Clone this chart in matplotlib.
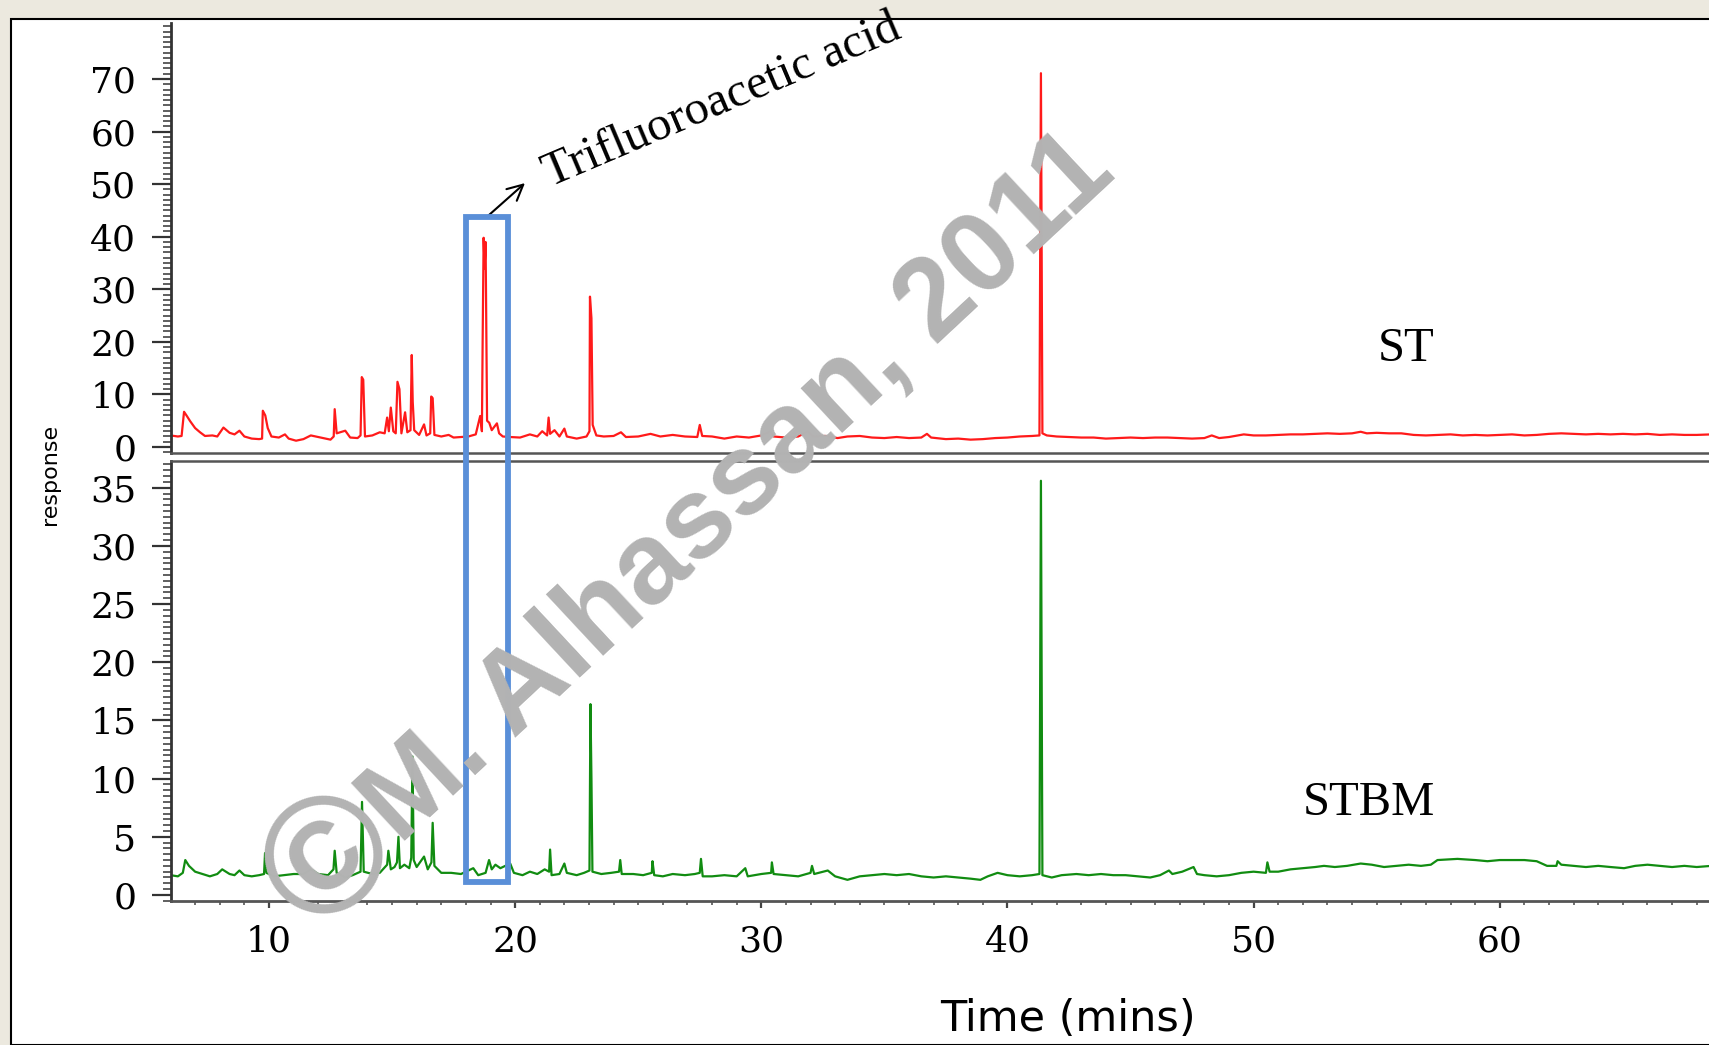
## GC chromatograms ST / STBM
import numpy as np
import matplotlib.pyplot as plt
from matplotlib.patches import Rectangle
from matplotlib.ticker import MultipleLocator

# ST trace (red, top panel) - time (mins), response
st_time = [6.0, 6.3, 6.45, 6.55, 6.65, 6.8, 7.0, 7.2, 7.4, 7.7, 7.9, 8.15, 8.4, 8.6, 8.8, 9.0, 9.3, 9.6,
           9.72, 9.75, 9.85, 9.95, 10.1, 10.4, 10.65, 10.8, 11.1, 11.4, 11.7, 12.0, 12.3, 12.5, 12.63, 12.67,
           12.75, 13.1, 13.3, 13.6, 13.72, 13.77, 13.83, 13.9, 14.2, 14.5, 14.7, 14.8, 14.87, 14.95, 15.05,
           15.15, 15.22, 15.3, 15.38, 15.53, 15.62, 15.75, 15.8, 15.84, 15.9, 16.1, 16.3, 16.4, 16.55, 16.59,
           16.65, 16.72, 17.0, 17.3, 17.5, 17.8, 18.1, 18.4, 18.58, 18.65, 18.68, 18.72, 18.76, 18.8, 18.86,
           18.95, 19.05, 19.26, 19.35, 19.5, 19.8, 20.2, 20.6, 20.9, 21.1, 21.3, 21.36, 21.42, 21.6, 21.8,
           22.0, 22.1, 22.5, 22.9, 23.02, 23.04, 23.1, 23.15, 23.3, 23.6, 24.0, 24.3, 24.5, 25.0, 25.5, 25.9,
           26.4, 26.9, 27.4, 27.5, 27.6, 28.0, 28.5, 29.0, 29.5, 30.0, 30.37, 30.5, 31.0, 31.5, 31.9, 32.1,
           32.6, 33.1, 33.5, 34.0, 34.5, 35.0, 35.5, 36.0, 36.5, 36.73, 36.9, 37.5, 38.0, 38.5, 39.0, 39.5,
           40.0, 40.5, 41.0, 41.3, 41.36, 41.42, 41.6, 42.0, 42.5, 43.0, 43.5, 44.0, 44.5, 45.0, 45.5, 46.0,
           46.5, 47.0, 47.5, 48.0, 48.3, 48.6, 49.0, 49.6, 50.0, 50.5, 51.0, 51.5, 52.0, 52.5, 53.0, 53.5,
           54.0, 54.35, 54.6, 55.0, 55.5, 56.0, 56.5, 57.0, 57.5, 58.0, 58.5, 59.0, 59.5, 60.0, 60.5, 61.0,
           61.5, 62.0, 62.5, 63.0, 63.5, 64.0, 64.5, 65.0, 65.5, 66.0, 66.5, 67.0, 67.5, 68.0, 68.6]
st_resp = [2.2, 2.0, 2.1, 6.7, 6.0, 4.9, 3.6, 2.8, 2.1, 2.2, 2.0, 3.7, 2.7, 2.4, 3.1, 2.0, 1.6, 1.5,
           1.6, 6.9, 6.0, 3.6, 2.0, 1.8, 2.4, 1.6, 1.2, 1.5, 2.2, 1.9, 1.6, 1.4, 2.0, 7.2,
           2.6, 3.1, 1.8, 1.7, 2.2, 13.3, 12.8, 2.0, 2.2, 2.8, 2.6, 5.6, 3.0, 7.5, 3.0,
           2.6, 12.4, 11.0, 2.6, 6.6, 2.8, 3.2, 17.5, 8.6, 3.2, 2.3, 4.3, 2.2, 2.6, 9.6,
           9.3, 2.3, 2.0, 2.3, 1.8, 1.9, 2.0, 2.4, 5.9, 3.0, 20.0, 39.8, 34.0, 39.0, 5.0,
           4.6, 3.2, 4.5, 2.6, 2.0, 1.9, 1.8, 2.4, 2.0, 3.0, 2.2, 5.6, 2.5, 3.2, 2.0,
           3.5, 2.0, 1.6, 2.0, 3.0, 28.6, 24.5, 4.2, 2.2, 2.0, 2.1, 2.8, 1.9, 2.0, 2.5, 2.0,
           2.3, 2.0, 1.9, 4.2, 2.1, 2.0, 1.6, 2.0, 1.8, 2.2, 3.0, 2.0, 1.8, 2.0, 3.0, 2.0,
           2.1, 1.7, 2.0, 2.1, 1.8, 1.7, 1.9, 1.7, 1.8, 2.5, 1.8, 1.5, 1.6, 1.4, 1.5, 1.7,
           1.8, 2.0, 2.1, 2.2, 71.1, 2.6, 2.2, 2.0, 1.9, 1.8, 1.8, 1.6, 1.7, 1.8, 1.7, 1.8,
           1.8, 1.7, 1.6, 1.7, 2.2, 1.7, 1.9, 2.4, 2.2, 2.2, 2.3, 2.4, 2.4, 2.5, 2.6, 2.5,
           2.6, 2.9, 2.6, 2.7, 2.6, 2.6, 2.3, 2.2, 2.3, 2.4, 2.2, 2.3, 2.2, 2.3, 2.4, 2.2,
           2.3, 2.5, 2.6, 2.5, 2.4, 2.5, 2.4, 2.5, 2.4, 2.5, 2.3, 2.4, 2.3, 2.3, 2.4]

# STBM trace (green, bottom panel)
stbm_time = [6.0, 6.3, 6.5, 6.6, 6.75, 7.0, 7.3, 7.6, 7.9, 8.1, 8.4, 8.6, 8.8, 9.0, 9.3, 9.6, 9.8, 9.84,
             9.9, 10.2, 10.6, 11.0, 11.4, 11.7, 12.0, 12.4, 12.62, 12.67, 12.75, 13.1, 13.4, 13.72, 13.78,
             13.85, 14.2, 14.5, 14.8, 14.85, 14.95, 15.1, 15.2, 15.26, 15.32, 15.5, 15.7, 15.78, 15.83,
             15.88, 16.0, 16.3, 16.45, 16.6, 16.65, 16.72, 17.0, 17.4, 17.8, 18.1, 18.3, 18.5, 18.8, 18.94,
             19.05, 19.2, 19.4, 19.6, 19.8, 19.95, 20.3, 20.6, 20.9, 21.2, 21.38, 21.42, 21.48, 21.8, 22.0,
             22.1, 22.5, 22.8, 23.02, 23.06, 23.1, 23.14, 23.5, 23.9, 24.22, 24.27, 24.33, 24.8, 25.2, 25.55,
             25.58, 25.65, 26.0, 26.4, 26.9, 27.3, 27.5, 27.55, 27.62, 28.0, 28.5, 29.0, 29.35, 29.45, 30.0,
             30.4, 30.43, 30.5, 31.0, 31.5, 32.0, 32.06, 32.15, 32.7, 33.0, 33.5, 34.0, 34.5, 35.0, 35.5,
             36.0, 36.5, 37.0, 37.5, 38.0, 38.5, 38.9, 39.2, 39.6, 40.0, 40.5, 41.0, 41.3, 41.36, 41.42,
             41.8, 42.2, 42.8, 43.3, 43.8, 44.3, 44.8, 45.3, 45.8, 46.2, 46.56, 46.7, 47.1, 47.56, 47.7, 48.0,
             48.5, 49.0, 49.5, 50.0, 50.5, 50.56, 50.65, 51.0, 51.5, 52.0, 52.5, 52.86, 53.3, 53.8, 54.35,
             54.8, 55.3, 55.8, 56.3, 56.8, 57.2, 57.47, 58.28, 59.0, 59.5, 60.0, 60.44, 61.0, 61.5, 61.92,
             62.3, 62.35, 62.5, 63.0, 63.5, 64.0, 64.5, 65.05, 65.5, 66.0, 66.5, 67.0, 67.5, 68.0, 68.6]
stbm_resp = [1.7, 1.6, 1.9, 3.0, 2.5, 2.0, 1.8, 1.6, 1.8, 2.2, 1.8, 1.7, 2.1, 1.7, 1.6, 1.7, 1.8, 3.6,
             1.9, 1.6, 1.7, 1.8, 1.8, 2.2, 1.8, 1.7, 2.2, 3.8, 1.9, 1.5, 1.7, 2.0, 8.0,
             2.0, 1.8, 1.9, 2.6, 3.8, 2.2, 2.4, 2.8, 5.0, 2.3, 2.6, 2.3, 3.2, 11.9,
             3.0, 2.4, 3.3, 2.2, 2.8, 6.2, 2.5, 1.9, 1.9, 1.8, 2.1, 2.3, 1.7, 1.9, 3.0,
             2.2, 2.6, 2.3, 2.5, 2.7, 1.9, 1.7, 2.0, 1.8, 2.2, 2.0, 3.9, 1.7, 1.8, 2.7,
             1.9, 1.7, 1.9, 2.1, 16.4, 10.0, 2.0, 1.8, 1.9, 2.0, 3.0, 1.8, 1.8, 1.7, 1.9,
             2.9, 1.7, 1.6, 1.8, 1.7, 1.8, 1.9, 3.1, 1.6, 1.6, 1.7, 1.6, 2.3, 1.6, 1.8,
             1.9, 2.8, 1.8, 1.7, 1.6, 1.9, 2.5, 1.8, 2.1, 1.6, 1.3, 1.6, 1.7, 1.8, 1.7,
             1.8, 1.6, 1.5, 1.6, 1.5, 1.4, 1.3, 1.6, 1.9, 1.7, 1.6, 1.7, 1.8, 35.6, 1.7,
             1.5, 1.7, 1.8, 1.7, 1.8, 1.7, 1.7, 1.6, 1.5, 1.7, 2.1, 1.8, 2.0, 2.4, 1.8, 1.7,
             1.6, 1.7, 1.9, 2.0, 1.9, 2.8, 2.0, 2.0, 2.2, 2.3, 2.4, 2.5, 2.4, 2.5, 2.7,
             2.6, 2.4, 2.5, 2.6, 2.5, 2.6, 3.0, 3.1, 3.0, 2.9, 3.0, 3.0, 3.0, 2.9, 2.5,
             2.5, 2.9, 2.6, 2.5, 2.4, 2.5, 2.4, 2.3, 2.5, 2.6, 2.5, 2.4, 2.5, 2.4, 2.5]

st_ticks = [0, 10, 20, 30, 40, 50, 60, 70]
stbm_ticks = [0, 5, 10, 15, 20, 25, 30, 35]
time_ticks = [10, 20, 30, 40, 50, 60]

# highlighted TFA window (time range, top in ST units, bottom in STBM units)
box_t0, box_t1 = 18.0, 19.7
box_top, box_bot = 43.8, 1.1

W, H = 1709, 1045
fig = plt.figure(figsize=(W / 100, H / 100), dpi=100, facecolor='#ECE9DF')

# white panel with black frame, kept behind the axes
fig.patches.append(Rectangle((11 / W, 0), 1.0, 1 - 19 / H, transform=fig.transFigure,
                             facecolor='white', edgecolor='black', lw=1.5, zorder=-5))

ax1 = fig.add_axes([171 / W, 1 - 453 / H, 1 - 171 / W, (453 - 23) / H])
ax2 = fig.add_axes([171 / W, 1 - 901 / H, 1 - 171 / W, (901 - 461) / H])
ax1.set_zorder(1)
ax2.set_zorder(1)

ax1.plot(st_time, st_resp, color='#FF1A1A', lw=1.6)
ax2.plot(stbm_time, stbm_resp, color='#118C11', lw=1.6)

for ax in (ax1, ax2):
    ax.set_facecolor('none')
    ax.set_xlim(6.02, 68.5)
    ax.spines['right'].set_visible(False)
    ax.spines['left'].set_color('#333333')
    ax.spines['left'].set_linewidth(2)
    ax.tick_params(axis='y', which='major', direction='out', length=14, width=1.6,
                   color='#333333', pad=11, labelsize=26)
    ax.tick_params(axis='y', which='minor', direction='out', length=5.5, width=1.2, color='#444444')

ax1.set_ylim(-1.14, 80.65)
ax1.set_yticks(st_ticks)
ax1.yaxis.set_minor_locator(MultipleLocator(1))
ax1.spines['top'].set_visible(False)
ax1.spines['bottom'].set_color('#555555')
ax1.spines['bottom'].set_linewidth(1.8)
ax1.set_xticks([])

ax2.set_ylim(-0.52, 37.3)
ax2.set_yticks(stbm_ticks)
ax2.yaxis.set_minor_locator(MultipleLocator(0.5))
ax2.spines['top'].set_color('#555555')
ax2.spines['top'].set_linewidth(1.8)
ax2.spines['bottom'].set_color('#555555')
ax2.spines['bottom'].set_linewidth(2)
ax2.set_xticks(time_ticks)
ax2.xaxis.set_minor_locator(MultipleLocator(1))
ax2.tick_params(axis='x', which='major', direction='out', length=5, width=1.6,
                color='#444444', pad=12, labelsize=26)
ax2.tick_params(axis='x', which='minor', direction='out', length=3, width=1.2, color='#555555')
for ax in (ax1, ax2):
    for lbl in ax.get_yticklabels() + ax.get_xticklabels():
        lbl.set_family('DejaVu Serif')

# labels
fig.text(1068 / W, 1 - 1019 / H, 'Time (mins)', fontsize=31, family='DejaVu Sans',
         ha='center', va='center')
fig.text(50 / W, 1 - 474 / H, 'response', fontsize=16, family='DejaVu Sans',
         rotation=90, ha='center', va='center')

ax1.text(56.2, 18.6, 'ST', fontsize=35, family='Liberation Serif', ha='center', va='center')
ax2.text(54.7, 7.9, 'STBM', fontsize=35, family='Liberation Serif', ha='center', va='center')

ax1.annotate('', xy=(20.4, 50.2), xytext=(18.86, 43.8), annotation_clip=False,
             arrowprops=dict(arrowstyle='->', lw=1.5, color='black', mutation_scale=28,
                             shrinkA=0, shrinkB=0))
ax1.text(21.4, 49.4, 'Trifluoroacetic acid', fontsize=35, family='Liberation Serif',
         rotation=23, rotation_mode='anchor', ha='left', va='baseline', clip_on=False)

# blue box spanning both panels
to_fig = fig.transFigure.inverted()
x0, y1 = to_fig.transform(ax1.transData.transform((box_t0, box_top)))
x1, y0 = to_fig.transform(ax2.transData.transform((box_t1, box_bot)))
fig.patches.append(Rectangle((x0, y0), x1 - x0, y1 - y0, transform=fig.transFigure,
                             fill=False, edgecolor='#5A8FD8', lw=4.2, zorder=5))

# watermark: large copyright sign, then the name
fig.text(333 / W, 1 - 864 / H, '\u00a9', fontsize=120, fontweight='bold',
         family='Liberation Sans', color='#B3B3B3', rotation=43, rotation_mode='anchor',
         ha='center', va='center', zorder=6)
fig.text(400 / W, 1 - 846 / H, 'M. Alhassan, 2011', fontsize=83, fontweight='bold',
         family='Liberation Sans', color='#B3B3B3', rotation=43, rotation_mode='anchor',
         ha='left', va='baseline', zorder=6)

plt.savefig('out.png', dpi=100, facecolor=fig.get_facecolor())
